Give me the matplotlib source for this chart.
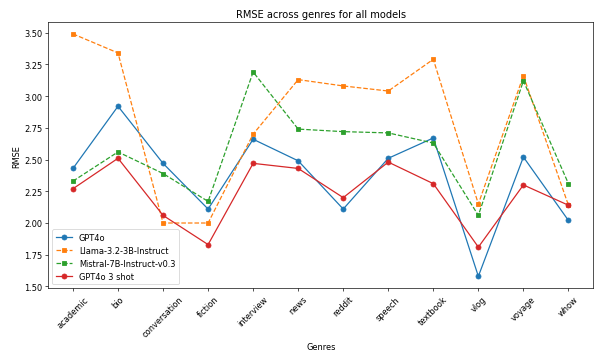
import matplotlib
matplotlib.use("Agg")
import matplotlib.pyplot as plt

genres = ["academic", "bio", "conversation", "fiction", "interview", "news",
          "reddit", "speech", "textbook", "vlog", "voyage", "whow"]

gpt4o = [2.43, 2.92, 2.47, 2.11, 2.66, 2.49, 2.11, 2.51, 2.67, 1.58, 2.52, 2.02]
llama = [3.49, 3.34, 2.00, 2.00, 2.70, 3.13, 3.08, 3.04, 3.29, 2.15, 3.16, 2.14]
mistral = [2.33, 2.56, 2.39, 2.17, 3.19, 2.74, 2.72, 2.71, 2.63, 2.06, 3.12, 2.31]
gpt4o_3shot = [2.27, 2.51, 2.06, 1.83, 2.47, 2.43, 2.20, 2.48, 2.31, 1.81, 2.30, 2.14]

fig, ax = plt.subplots(figsize=(10, 5.983), dpi=59.5)
fig.subplots_adjust(left=0.081, right=0.997, top=0.936, bottom=0.187)

ax.plot(genres, gpt4o, marker="o", linestyle="-", color="#1f77b4", label="GPT4o")
ax.plot(genres, llama, marker="s", linestyle="--", color="#ff7f0e", label="Llama-3.2-3B-Instruct")
ax.plot(genres, mistral, marker="s", linestyle="--", color="#2ca02c", label="Mistral-7B-Instruct-v0.3")
ax.plot(genres, gpt4o_3shot, marker="o", linestyle="-", color="#d62728", label="GPT4o 3 shot")

ax.set_title("RMSE across genres for all models")
ax.set_xlabel("Genres")
ax.set_ylabel("RMSE")
ax.set_yticks([1.50, 1.75, 2.00, 2.25, 2.50, 2.75, 3.00, 3.25, 3.50])
ax.set_yticklabels(["1.50", "1.75", "2.00", "2.25", "2.50", "2.75", "3.00", "3.25", "3.50"])
plt.setp(ax.get_xticklabels(), rotation=45)
ax.legend(loc="lower left")

fig.savefig("out.png", dpi=59.5)
